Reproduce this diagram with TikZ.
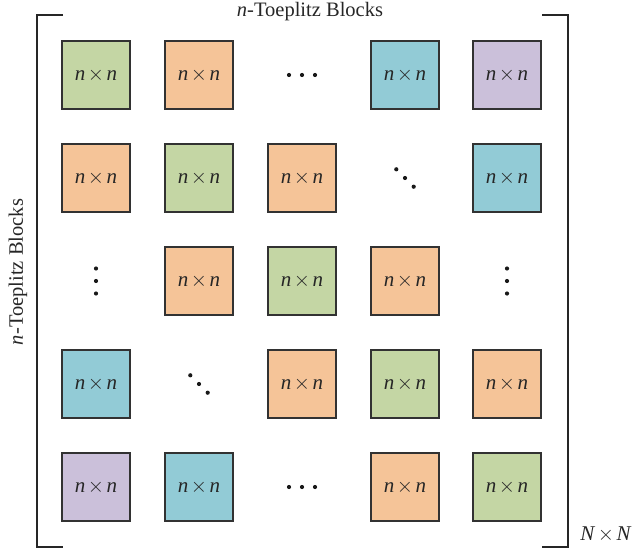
\documentclass[tikz,border=0pt]{standalone}
\usepackage{fontspec}
\setmainfont{Liberation Serif}
\definecolor{cgreen}{RGB}{196,214,164}
\definecolor{corange}{RGB}{245,196,152}
\definecolor{cblue}{RGB}{146,203,214}
\definecolor{cpurple}{RGB}{203,192,218}
\definecolor{edgec}{RGB}{50,50,50}
\newcommand{\nxn}{\textit{n}\hspace{0.12em}$\times$\hspace{0.12em}\textit{n}}
\begin{document}
\begin{tikzpicture}[x=1pt,y=-1pt,
  blk/.style={draw=edgec,line width=1.1pt,minimum size=68pt,inner sep=0pt,
    font=\fontsize{21}{23}\selectfont, text=black!85},
  G/.style={blk,fill=cgreen},
  O/.style={blk,fill=corange},
  B/.style={blk,fill=cblue},
  P/.style={blk,fill=cpurple},
  dotc/.style={circle,fill=black!90,inner sep=0pt,minimum size=4.2pt},
  brk/.style={draw=black!85,line width=1.8pt},
  lbl/.style={font=\fontsize{20.5}{22}\selectfont,inner sep=0pt,text=black!85}]
\useasboundingbox (0,0) rectangle (637,548);
% row 1
\node[G] (b11) at (96,75) {\nxn};
\node[O] (b12) at (199,75) {\nxn};
\node[B] (b14) at (405,75) {\nxn};
\node[P] (b15) at (507,75) {\nxn};
% row 2
\node[O] (b21) at (96,178) {\nxn};
\node[G] (b22) at (199,178) {\nxn};
\node[O] (b23) at (302,178) {\nxn};
\node[B] (b25) at (507,178) {\nxn};
% row 3
\node[O] (b32) at (199,281) {\nxn};
\node[G] (b33) at (302,281) {\nxn};
\node[O] (b34) at (405,281) {\nxn};
% row 4
\node[B] (b41) at (96,384) {\nxn};
\node[O] (b43) at (302,384) {\nxn};
\node[G] (b44) at (405,384) {\nxn};
\node[O] (b45) at (507,384) {\nxn};
% row 5
\node[P] (b51) at (96,487) {\nxn};
\node[B] (b52) at (199,487) {\nxn};
\node[O] (b54) at (405,487) {\nxn};
\node[G] (b55) at (507,487) {\nxn};
% dots: horizontal rows 1 and 5
\foreach \i/\dx in {1/-13,2/0,3/13} {\node[dotc] (h1\i) at (302+\dx,75) {};}
\foreach \i/\dx in {1/-13,2/0,3/13} {\node[dotc] (h5\i) at (302+\dx,487) {};}
% vertical row 3
\foreach \i/\dy in {1/-12.5,2/0,3/12.5} {\node[dotc] (v1\i) at (96,281+\dy) {};}
\foreach \i/\dy in {1/-12.5,2/0,3/12.5} {\node[dotc] (v5\i) at (507,281+\dy) {};}
% diagonal
\foreach \i/\d in {1/-8.7,2/0,3/8.7} {\node[dotc] (d2\i) at (405+\d,178+\d) {};}
\foreach \i/\d in {1/-8.7,2/0,3/8.7} {\node[dotc] (d4\i) at (199+\d,384+\d) {};}
% brackets
\coordinate (lt) at (37,15); \coordinate (lte) at (63,15);
\coordinate (lb) at (37,547); \coordinate (lbe) at (63,547);
\coordinate (rt) at (568,15); \coordinate (rte) at (542,15);
\coordinate (rb) at (568,547); \coordinate (rbe) at (542,547);
\draw[brk] (lte) -- (lt) -- (lb) -- (lbe);
\draw[brk] (rte) -- (rt) -- (rb) -- (rbe);
% labels
\node[lbl] (top) at (310,12) {\textit{n}-Toeplitz Blocks};
\node[lbl,rotate=90] (left) at (18,272) {\textit{n}-Toeplitz Blocks};
\node[lbl,font=\fontsize{21}{23}\selectfont] (nn) at (606,534) {\textit{N}\hspace{0.12em}$\times$\hspace{0.12em}\textit{N}};
\end{tikzpicture}
\end{document}
